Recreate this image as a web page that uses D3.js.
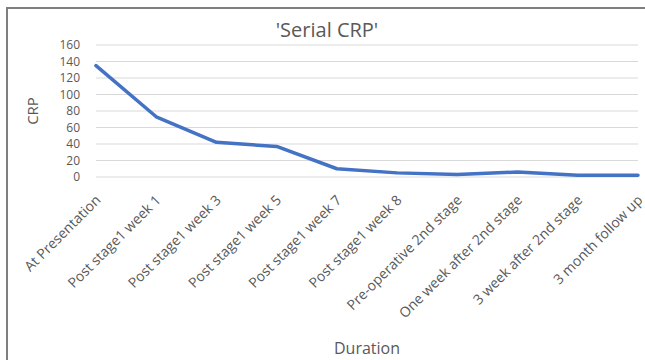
<!DOCTYPE html>
<html><head><meta charset="utf-8">
<script src="https://cdn.jsdelivr.net/npm/d3@7/dist/d3.min.js"></script>
<style>body{margin:0;background:#fff}svg{display:block}</style>
</head><body>
<script>
const categories = ["At Presentation","Post stage1 week 1","Post stage1 week 3","Post stage1 week 5","Post stage1 week 7","Post stage1 week 8","Pre-operative 2nd stage","One week after 2nd stage","3 week after 2nd stage","3 month follow up"];
const crpValues = [135, 73, 42, 37, 10, 5, 3, 6, 2, 2];
const yTicks = [0,20,40,60,80,100,120,140,160];
const titleText = "'Serial CRP'";
const xTitle = "Duration";
const yTitle = "CRP";

const W = 645, H = 360;
const font = "'Open Sans', sans-serif";
const txt = "#595959";
const svg = d3.select("body").append("svg").attr("width", W).attr("height", H);
svg.append("rect").attr("width", W).attr("height", H).attr("fill", "#fff");
// frame
svg.append("rect").attr("x", 7).attr("y", 8).attr("width", W).attr("height", H)
  .attr("fill", "none").attr("stroke", "#7f7f7f").attr("stroke-width", 2);

const x = d3.scalePoint().domain(categories).range([96, 638]);
const y = d3.scaleLinear().domain([0, 160]).range([177, 45]);

// gridlines
svg.append("g").selectAll("line").data(yTicks).join("line")
  .attr("x1", 96).attr("x2", 638)
  .attr("y1", d => y(d)).attr("y2", d => y(d))
  .attr("stroke", "#d9d9d9").attr("stroke-width", 1);

// y axis
const yAxis = svg.append("g").attr("transform", "translate(80,0)")
  .call(d3.axisLeft(y).tickValues(yTicks).tickSize(0).tickPadding(0));
yAxis.select(".domain").remove();
yAxis.selectAll("text").attr("font-family", font).attr("font-size", 12).attr("fill", txt);

// x axis
const xAxis = svg.append("g").attr("transform", "translate(0,177)")
  .call(d3.axisBottom(x).tickSize(0).tickPadding(0));
xAxis.select(".domain").remove();
xAxis.selectAll("text")
  .attr("font-family", font).attr("font-size", 14).attr("fill", txt)
  .attr("text-anchor", "end").attr("dy", 0).attr("y", 0)
  .attr("transform", "translate(5,24) rotate(-45)");

// line
svg.append("path").datum(crpValues)
  .attr("fill", "none").attr("stroke", "#4472c4").attr("stroke-width", 3.5)
  .attr("stroke-linejoin", "round").attr("stroke-linecap", "round")
  .attr("d", d3.line().x((d, i) => x(categories[i])).y(d => y(d)));

// titles
svg.append("text").attr("x", 327).attr("y", 37).attr("text-anchor", "middle")
  .attr("font-family", font).attr("font-size", 20).attr("fill", txt).text(titleText);
svg.append("text").attr("x", 367).attr("y", 354).attr("text-anchor", "middle")
  .attr("font-family", font).attr("font-size", 16).attr("fill", txt).text(xTitle);
svg.append("text").attr("transform", "translate(38,111) rotate(-90)").attr("text-anchor", "middle")
  .attr("font-family", font).attr("font-size", 15).attr("fill", txt).text(yTitle);
</script>
</body></html>
